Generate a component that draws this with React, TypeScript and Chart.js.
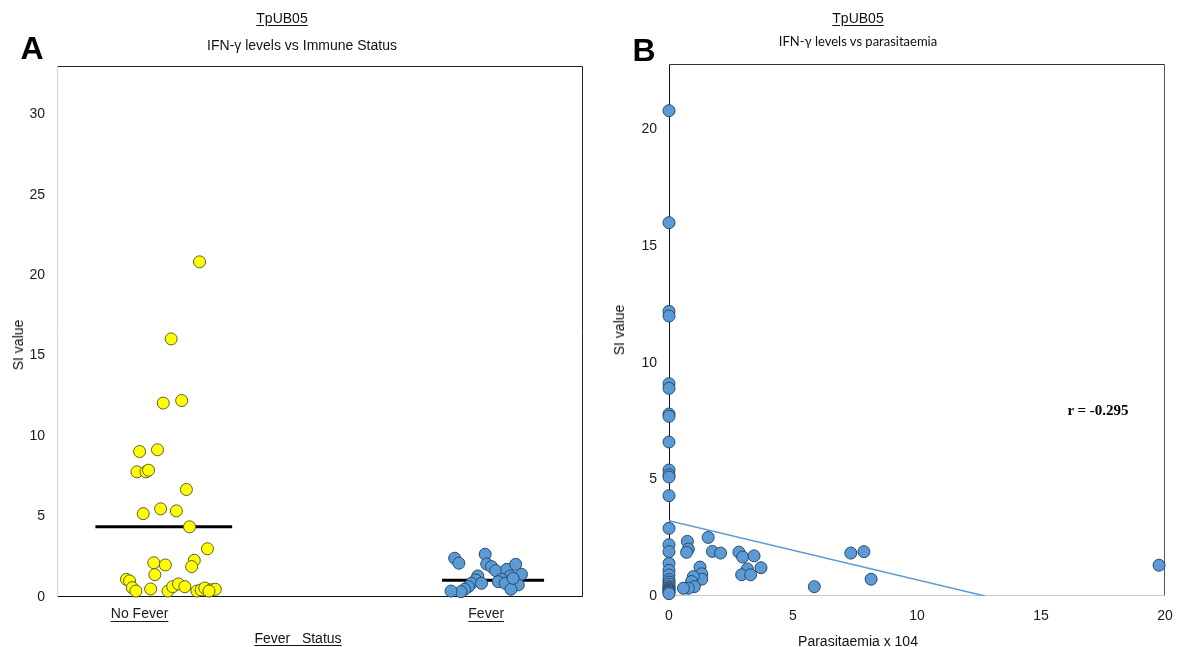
import React, { useEffect, useRef } from "react";
import { Chart, registerables } from "chart.js";

Chart.register(...registerables);

// ---------- Panel A data ----------
const categoryLabels = ["No Fever", "Fever"];
const categoryPositions = [1.57, 8.16];

const noFeverX = [
  2.71, 2.17, 2.02, 2.37, 1.57, 1.91, 1.52, 1.69, 1.74, 2.46, 1.64, 1.97, 2.27, 2.52,
  2.86, 2.61, 2.56, 1.84, 2.06, 1.86, 1.32, 1.38, 1.43, 1.5, 1.78, 2.11, 2.2, 2.31,
  2.43, 2.66, 2.74, 2.81, 2.93, 3.01, 2.89,
];
const noFeverSI = [
  20.83, 16.04, 12.05, 12.21, 9.04, 9.15, 7.78, 7.78, 7.88, 6.68, 5.18, 5.48, 5.35, 4.36,
  3.0, 2.28, 1.89, 2.13, 1.99, 1.39, 1.1, 1.0, 0.58, 0.37, 0.5, 0.37, 0.64, 0.81,
  0.64, 0.37, 0.44, 0.56, 0.45, 0.48, 0.37,
];

const feverX = [
  7.56, 7.64, 8.14, 8.17, 8.26, 8.34, 8.55, 8.72, 8.83, 8.62, 8.45, 8.39, 8.52, 8.77,
  8.63, 8.0, 7.96, 7.88, 7.82, 7.75, 7.68, 7.49, 8.07, 8.67,
];
const feverSI = [
  2.41, 2.1, 2.66, 2.05, 1.89, 1.64, 1.72, 2.03, 1.41, 1.31, 1.1, 0.95, 0.85, 0.75,
  0.48, 1.31, 1.06, 0.85, 0.64, 0.48, 0.33, 0.37, 0.85, 1.16,
];

const noFeverMean = 4.36;
const noFeverMeanSpan = [0.73, 3.33];
const feverMean = 1.04;
const feverMeanSpan = [7.32, 9.26];

const yMaxA = 33;
const yStepA = 5;

// ---------- Panel B data ----------
const parasitaemia = [
  0, 0, 0, 0, 0, 0, 0, 0, 0, 0, 0, 0, 0, 0, 0, 0, 0, 0, 0, 0, 0, 0, 0, 0, 0, 0, 0, 0, 0,
  0.74, 0.78, 0.71, 1.58, 1.75, 2.08, 2.82, 2.97, 3.43, 3.71, 3.16, 2.93, 3.29, 1.25,
  1.32, 1.32, 0.98, 0.91, 1.02, 0.78, 0.58, 5.86, 7.33, 7.86, 8.15, 19.76,
];
const siB = [
  20.8, 16.0, 12.2, 12.0, 9.1, 8.9, 7.8, 7.7, 6.6, 5.4, 5.2, 5.1, 4.3, 2.9, 2.2, 1.9, 1.4,
  1.1, 0.9, 0.7, 0.6, 0.5, 0.4, 0.35, 0.3, 0.25, 0.2, 0.15, 0.1,
  2.34, 2.01, 1.87, 2.51, 1.91, 1.84, 1.88, 1.67, 1.72, 1.21, 1.16, 0.91, 0.91, 1.24,
  0.95, 0.72, 0.83, 0.62, 0.4, 0.33, 0.33, 0.4, 1.84, 1.9, 0.72, 1.32,
];
const trendX = [0, 12.74];
const trendY = [3.23, 0];
const correlationText = "r = -0.295";

const xMaxB = 20;
const yMaxB = 22.8;
const stepB = 5;

// ---------- plugins ----------
const framePlugin = {
  id: "frame",
  beforeDatasetsDraw(chart: any, _args: any, opts: any) {
    const { ctx, chartArea } = chart;
    const { left, right, top, bottom } = chartArea;
    const seg = (x1: number, y1: number, x2: number, y2: number, c: string) => {
      if (!c) return;
      ctx.save();
      ctx.strokeStyle = c;
      ctx.lineWidth = 1;
      ctx.beginPath();
      ctx.moveTo(x1, y1);
      ctx.lineTo(x2, y2);
      ctx.stroke();
      ctx.restore();
    };
    const L = Math.round(left) + 0.5;
    const R = Math.round(right) - 0.5;
    const T = Math.round(top) + 0.5;
    const B = Math.round(bottom) - 0.5;
    seg(L, T, R, T, opts.top);
    seg(R, T, R, B, opts.right);
    seg(L, B, R, B, opts.bottom);
    seg(L, T, L, B, opts.left);
  },
};

const tickUnderlinePlugin = {
  id: "tickUnderline",
  afterDraw(chart: any, _args: any, opts: any) {
    if (!opts || !opts.enabled) return;
    const scale = chart.scales.x;
    const ctx = chart.ctx;
    ctx.save();
    ctx.font = opts.font;
    ctx.strokeStyle = opts.color;
    ctx.lineWidth = 1;
    categoryLabels.forEach((label, i) => {
      const x = scale.getPixelForValue(categoryPositions[i]);
      const w = ctx.measureText(label).width;
      const y = Math.round(chart.chartArea.bottom + opts.offset) + 0.5;
      ctx.beginPath();
      ctx.moveTo(x - w / 2, y);
      ctx.lineTo(x + w / 2, y);
      ctx.stroke();
    });
    ctx.restore();
  },
};

const tickFont = { family: "'Liberation Sans', Arial, sans-serif", size: 14 };
const tickColor = "#1a1a1a";

const yellowFill = "#ffff00";
const yellowBorder = "#5e5e2a";
const blueFill = "#5b9bd5";
const blueBorder = "#2a4a6b";
const markerRadius = 6;

const fitX = (h: number) => (s: any) => {
  s.height = h;
  s.paddingLeft = 0;
  s.paddingRight = 0;
};
const fitY = (w: number) => (s: any) => {
  s.width = w;
  s.paddingTop = 0;
  s.paddingBottom = 0;
};

function makeConfigA(): any {
  return {
    type: "scatter",
    data: {
      datasets: [
        {
          label: "No Fever",
          data: noFeverX.map((x, i) => ({ x, y: noFeverSI[i] })),
          backgroundColor: yellowFill,
          borderColor: yellowBorder,
          borderWidth: 1,
          pointRadius: markerRadius,
          clip: false,
        },
        {
          label: "Fever",
          data: feverX.map((x, i) => ({ x, y: feverSI[i] })),
          backgroundColor: blueFill,
          borderColor: blueBorder,
          borderWidth: 1,
          pointRadius: markerRadius,
          clip: false,
        },
        {
          label: "No Fever mean",
          data: noFeverMeanSpan.map((x) => ({ x, y: noFeverMean })),
          showLine: true,
          borderColor: "#000",
          borderWidth: 3,
          pointRadius: 0,
        },
        {
          label: "Fever mean",
          data: feverMeanSpan.map((x) => ({ x, y: feverMean })),
          showLine: true,
          borderColor: "#000",
          borderWidth: 3,
          pointRadius: 0,
        },
      ],
    },
    options: {
      animation: false,
      responsive: false,
      events: [],
      layout: { padding: { left: 0, top: 66, right: 5, bottom: 0 } },
      plugins: {
        legend: { display: false },
        tooltip: { enabled: false },
        frame: { top: "#222", right: "#222", bottom: "#111", left: "#d4d4d4" },
        tickUnderline: {
          enabled: true,
          font: "14px 'Liberation Sans', Arial, sans-serif",
          color: "#1a1a1a",
          offset: 24,
        },
      },
      scales: {
        x: {
          type: "linear",
          min: 0,
          max: 10,
          grid: { display: false, drawTicks: false },
          border: { display: false },
          afterBuildTicks: (s: any) => {
            s.ticks = categoryPositions.map((v) => ({ value: v }));
          },
          afterFit: fitX(50),
          ticks: {
            autoSkip: false,
            maxRotation: 0,
            padding: 9,
            font: tickFont,
            color: tickColor,
            callback: (_v: any, i: number) => categoryLabels[i],
          },
        },
        y: {
          type: "linear",
          min: 0,
          max: yMaxA,
          grid: { display: false, drawTicks: false },
          border: { display: false },
          afterFit: fitY(57),
          ticks: {
            stepSize: yStepA,
            includeBounds: false,
            padding: 12,
            font: tickFont,
            color: tickColor,
          },
        },
      },
    },
    plugins: [framePlugin, tickUnderlinePlugin],
  };
}

function makeConfigB(): any {
  return {
    type: "scatter",
    data: {
      datasets: [
        {
          label: "Trend",
          data: trendX.map((x, i) => ({ x, y: trendY[i] })),
          showLine: true,
          borderColor: "#5b9bd5",
          borderWidth: 1.5,
          pointRadius: 0,
        },
        {
          label: "SI vs parasitaemia",
          data: parasitaemia.map((x, i) => ({ x, y: siB[i] })),
          backgroundColor: blueFill,
          borderColor: blueBorder,
          borderWidth: 1,
          pointRadius: markerRadius,
          clip: false,
        },
      ],
    },
    options: {
      animation: false,
      responsive: false,
      events: [],
      layout: { padding: { left: 0, top: 64, right: 15, bottom: 0 } },
      plugins: {
        legend: { display: false },
        tooltip: { enabled: false },
        frame: { top: "#333", right: "#555", bottom: "#c8c8c8", left: "#111" },
        tickUnderline: { enabled: false },
      },
      scales: {
        x: {
          type: "linear",
          min: 0,
          max: xMaxB,
          grid: { display: false, drawTicks: false },
          border: { display: false },
          afterFit: fitX(51),
          ticks: {
            stepSize: stepB,
            padding: 12,
            maxRotation: 0,
            font: tickFont,
            color: tickColor,
          },
        },
        y: {
          type: "linear",
          min: 0,
          max: yMaxB,
          grid: { display: false, drawTicks: false },
          border: { display: false },
          afterFit: fitY(79),
          ticks: {
            stepSize: stepB,
            includeBounds: false,
            padding: 12,
            font: tickFont,
            color: tickColor,
          },
        },
      },
    },
    plugins: [framePlugin],
  };
}

const arial = "'Liberation Sans', Arial, sans-serif";

function Label(props: {
  x: number;
  y: number;
  text: string;
  size: number;
  family?: string;
  bold?: boolean;
  underline?: boolean;
  rotate?: boolean;
  color?: string;
}) {
  const style: React.CSSProperties = {
    position: "absolute",
    left: props.x,
    top: props.y,
    transform: `translate(-50%, -50%)${props.rotate ? " rotate(-90deg)" : ""}`,
    fontFamily: props.family || arial,
    fontSize: props.size,
    fontWeight: props.bold ? "bold" : "normal",
    textDecoration: props.underline ? "underline" : "none",
    textUnderlineOffset: "2px",
    color: props.color || "#111",
    whiteSpace: "pre",
    lineHeight: 1,
  };
  return <div style={style}>{props.text}</div>;
}

export default function App() {
  const refA = useRef<HTMLCanvasElement | null>(null);
  const refB = useRef<HTMLCanvasElement | null>(null);

  useEffect(() => {
    const a = new Chart(refA.current as HTMLCanvasElement, makeConfigA());
    const b = new Chart(refB.current as HTMLCanvasElement, makeConfigB());
    return () => {
      a.destroy();
      b.destroy();
    };
  }, []);

  return (
    <div
      style={{
        position: "fixed",
        left: 0,
        top: 0,
        width: 1180,
        height: 647,
        background: "#fff",
        overflow: "hidden",
      }}
    >
      <canvas
        ref={refA}
        width={590}
        height={647}
        style={{ position: "absolute", left: 0, top: 0, width: 590, height: 647 }}
      />
      <canvas
        ref={refB}
        width={590}
        height={647}
        style={{ position: "absolute", left: 590, top: 0, width: 590, height: 647 }}
      />

      {/* Panel A texts */}
      <Label x={32} y={48} text="A" size={32} bold color="#000" />
      <Label x={282} y={18} text="TpUB05" size={14} underline />
      <Label x={302} y={45} text="IFN-γ levels vs Immune Status" size={14} />
      <Label x={18} y={345} text="SI value" size={14} rotate />
      <Label x={298} y={638} text="Fever   Status" size={14} underline />

      {/* Panel B texts */}
      <Label x={644} y={50} text="B" size={32} bold color="#000" />
      <Label x={858} y={18} text="TpUB05" size={14} underline />
      <Label x={858} y={41} text="IFN-γ levels vs parasitaemia" size={13} family="Lato, 'Open Sans', sans-serif" />
      <Label x={619} y={330} text="SI value" size={14} rotate />
      <Label x={858} y={641} text="Parasitaemia x 104" size={14} />
      <Label
        x={1098}
        y={410}
        text={correlationText}
        size={15}
        bold
        family="'Liberation Serif', 'Times New Roman', serif"
        color="#000"
      />
    </div>
  );
}
